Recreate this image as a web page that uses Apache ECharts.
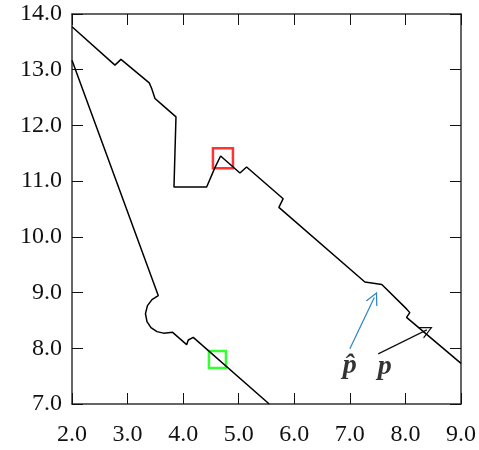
<!DOCTYPE html>
<html>
<head>
<meta charset="utf-8">
<script src="https://cdn.jsdelivr.net/npm/echarts@6/dist/echarts.min.js"></script>
<style>
  html, body { margin: 0; padding: 0; background: #fff; }
  #chart { width: 479px; height: 450px; }
</style>
</head>
<body>
<div id="chart"></div>
<script>
// curves (x, y)
var upperCurve = [
  [2.0, 13.77], [2.773, 13.083], [2.881, 13.185], [3.39, 12.764], [3.434, 12.663],
  [3.493, 12.484], [3.583, 12.405], [3.871, 12.153], [3.835, 10.894], [4.423, 10.894],
  [4.572, 11.243], [4.674, 11.452], [5.022, 11.146], [5.142, 11.254], [5.80, 10.685],
  [5.723, 10.529], [7.27, 9.19], [7.575, 9.144], [8.02, 8.707], [8.079, 8.64],
  [8.02, 8.556], [9.0, 7.73]
];
var lowerCurve = [
  [2.0, 13.17], [3.552, 8.946], [3.439, 8.874], [3.358, 8.766], [3.322, 8.622],
  [3.349, 8.478], [3.421, 8.371], [3.529, 8.299], [3.646, 8.272], [3.811, 8.286],
  [4.063, 8.065], [4.092, 8.149], [4.182, 8.196], [5.549, 7.0]
];
var redBox = [[4.716, 11.41]];
var greenBox = [[4.617, 7.80]];
var arrowHat = [[7.0, 7.99], [7.44, 8.91]];
var arrowP = [[7.51, 7.90], [8.385, 8.33]];
var textMarks = [
  { name: "p\u0302", value: [7.0, 7.69] },
  { name: "p", value: [7.63, 7.67] }
];
var xTicks = { min: 2, max: 9, interval: 1 };
var yTicks = { min: 7, max: 14, interval: 1 };

var chart = echarts.init(document.getElementById("chart"));

var serif = "'Liberation Serif', 'DejaVu Serif', serif";
var openHead = "path://M85,0 L170,125 L152,125 L85,26 L18,125 L0,125 Z";

function axisBase(t, showLabel, pos) {
  return {
    type: "value",
    position: pos,
    min: t.min,
    max: t.max,
    interval: t.interval,
    splitLine: { show: false },
    axisLine: { show: true, onZero: false, lineStyle: { color: "#333", width: 1.5 } },
    axisTick: { show: true, inside: true, length: 11, lineStyle: { color: "#111", width: 1 } },
    axisLabel: {
      show: showLabel,
      color: "#111",
      fontFamily: serif,
      fontSize: 24,
      formatter: function (v) { return v.toFixed(1); },
    },
  };
}

var xMain = axisBase(xTicks, true, "bottom");
xMain.axisLabel.margin = 19;
var yMain = axisBase(yTicks, true, "left");
yMain.axisLabel.margin = 10;

chart.setOption({
  animation: false,
  textStyle: { fontFamily: serif },
  grid: { left: 72, right: 18, top: 14, bottom: 46 },
  xAxis: [xMain, axisBase(xTicks, false, "top")],
  yAxis: [yMain, axisBase(yTicks, false, "right")],
  series: [
    {
      type: "line",
      data: upperCurve,
      symbol: "none",
      lineStyle: { color: "#000", width: 1.5 },
    },
    {
      type: "line",
      data: lowerCurve,
      symbol: "none",
      lineStyle: { color: "#000", width: 1.5 },
    },
    {
      type: "scatter",
      data: redBox,
      symbol: "rect",
      symbolSize: 20,
      itemStyle: { color: "rgba(0,0,0,0)", borderColor: "#f00", borderWidth: 2.5 },
    },
    {
      type: "scatter",
      data: greenBox,
      symbol: "rect",
      symbolSize: 17,
      itemStyle: { color: "rgba(0,0,0,0)", borderColor: "#0f0", borderWidth: 2.5 },
    },
    {
      type: "lines",
      coordinateSystem: "cartesian2d",
      symbol: ["none", openHead],
      symbolSize: [18, 13],
      data: [
        { coords: arrowHat, lineStyle: { color: "#2a84c6" } },
        { coords: arrowP, lineStyle: { color: "#111" } },
      ],
      lineStyle: { width: 1.2, opacity: 1 },
    },
    {
      type: "scatter",
      data: textMarks,
      symbolSize: 0,
      label: {
        show: true,
        position: "inside",
        formatter: "{b}",
        color: "#000",
        fontFamily: serif,
        fontStyle: "italic",
        fontWeight: "bold",
        fontSize: 28,
      },
    },
  ],
});
</script>
</body>
</html>
